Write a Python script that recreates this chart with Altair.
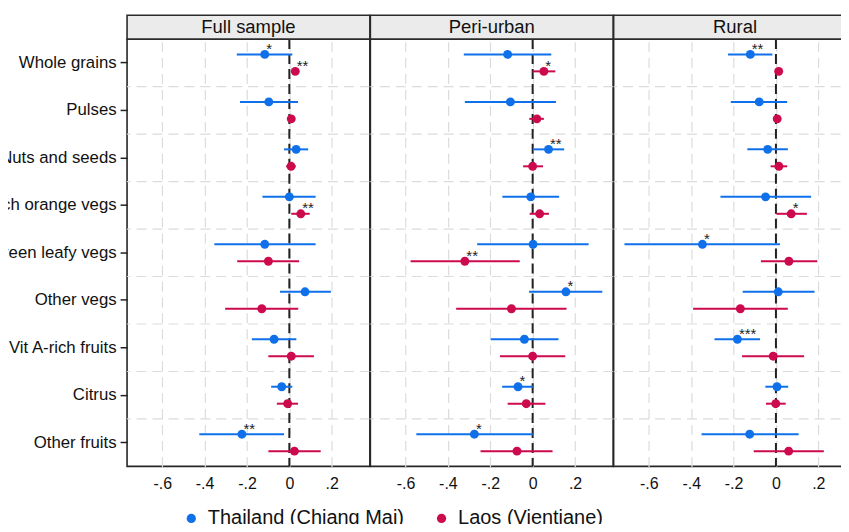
import altair as alt
import pandas as pd

foods = ["Whole grains", "Pulses", "Nuts and seeds", "Vit A-rich orange vegs",
         "Dark green leafy vegs", "Other vegs", "Vit A-rich fruits", "Citrus", "Other fruits"]
panels = ["Full sample", "Peri-urban", "Rural"]
series = ["Thailand (Chiang Mai)", "Laos (Vientiane)"]
x_ticks = [-0.6, -0.4, -0.2, 0.0, 0.2]

# Full sample
full_th_est = [-0.116, -0.097, 0.032, 0.000, -0.116, 0.074, -0.072, -0.036, -0.224]
full_th_lo = [-0.248, -0.233, -0.025, -0.127, -0.354, -0.044, -0.177, -0.086, -0.425]
full_th_hi = [0.014, 0.041, 0.089, 0.124, 0.124, 0.196, 0.033, 0.014, -0.025]
full_th_sig = ["*", "", "", "", "", "", "", "", "**"]
full_la_est = [0.028, 0.009, 0.008, 0.054, -0.099, -0.130, 0.009, -0.008, 0.024]
full_la_lo = [0.012, -0.005, -0.015, 0.009, -0.246, -0.303, -0.099, -0.059, -0.099]
full_la_hi = [0.045, 0.022, 0.030, 0.096, 0.046, 0.042, 0.116, 0.041, 0.148]
full_la_sig = ["**", "", "", "**", "", "", "", "", ""]

# Peri-urban
peri_th_est = [-0.118, -0.105, 0.075, -0.009, 0.002, 0.157, -0.039, -0.069, -0.275]
peri_th_lo = [-0.325, -0.320, 0.003, -0.143, -0.262, -0.017, -0.198, -0.144, -0.549]
peri_th_hi = [0.088, 0.110, 0.149, 0.125, 0.264, 0.329, 0.122, 0.005, 0.002]
peri_th_sig = ["", "", "**", "", "", "*", "", "*", "*"]
peri_la_est = [0.053, 0.020, 0.000, 0.033, -0.320, -0.100, 0.000, -0.030, -0.074]
peri_la_lo = [0.000, -0.016, -0.045, -0.014, -0.576, -0.361, -0.154, -0.118, -0.246]
peri_la_hi = [0.107, 0.053, 0.049, 0.077, -0.061, 0.160, 0.154, 0.060, 0.094]
peri_la_sig = ["*", "", "", "", "**", "", "", "", ""]

# Rural
rur_th_est = [-0.121, -0.079, -0.039, -0.049, -0.347, 0.011, -0.182, 0.005, -0.124]
rur_th_lo = [-0.226, -0.213, -0.135, -0.262, -0.715, -0.157, -0.290, -0.050, -0.351]
rur_th_hi = [-0.017, 0.053, 0.056, 0.166, 0.019, 0.182, -0.075, 0.058, 0.107]
rur_th_sig = ["**", "", "", "", "*", "", "***", "", ""]
rur_la_est = [0.013, 0.006, 0.014, 0.072, 0.061, -0.168, -0.013, -0.001, 0.060]
rur_la_lo = [0.005, 0.000, -0.025, 0.002, -0.071, -0.391, -0.160, -0.047, -0.105]
rur_la_hi = [0.020, 0.012, 0.053, 0.146, 0.195, 0.056, 0.133, 0.046, 0.226]
rur_la_sig = ["", "", "", "*", "", "", "", "", ""]


def make_df(th, la):
    rows = []
    for i, f in enumerate(foods):
        for s, (e, lo, hi, sg) in zip(series, (th, la)):
            rows.append(dict(food=f, series=s, est=e[i], lo=lo[i], hi=hi[i], sig=sg[i]))
    return pd.DataFrame(rows)


dfs = [
    make_df((full_th_est, full_th_lo, full_th_hi, full_th_sig), (full_la_est, full_la_lo, full_la_hi, full_la_sig)),
    make_df((peri_th_est, peri_th_lo, peri_th_hi, peri_th_sig), (peri_la_est, peri_la_lo, peri_la_hi, peri_la_sig)),
    make_df((rur_th_est, rur_th_lo, rur_th_hi, rur_th_sig), (rur_la_est, rur_la_lo, rur_la_hi, rur_la_sig)),
]

W = 243.5
H = 428.5
XDOM = [-0.766, 0.380]
BLUE, RED = "#0f70ea", "#cc0a4d"
FONT = "Liberation Sans"
GRID = "#dcdcdc"

xscale = alt.Scale(domain=XDOM, nice=False, zero=False)
yscale = alt.Scale(domain=foods, paddingInner=0, paddingOuter=0)
yoff = alt.YOffset("series:N", scale=alt.Scale(domain=series, paddingInner=0, paddingOuter=0.4))
xaxis = alt.Axis(
    title=None, values=x_ticks,
    labelExpr="datum.value == 0 ? '0' : (datum.value < 0 ? '-' : '') + replace(format(abs(datum.value), '.1f'), '0.', '.')",
    grid=True, gridDash=[10, 6], gridColor=GRID, gridWidth=1.2,
    ticks=False, tickSize=0, domain=False, labelFontSize=16, labelColor="#111",
    labelPadding=9, labelFlush=False,
)
legend = alt.Legend(
    title=None, orient="none", direction="horizontal", legendX=54.4, legendY=470.7,
    labelFontSize=20, labelColor="#111", symbolType="circle", symbolSize=86,
    symbolStrokeWidth=0, labelOffset=6.6, columnPadding=27, labelLimit=500,
)
color = alt.Color("series:N", scale=alt.Scale(domain=series, range=[BLUE, RED]), legend=legend)


def panel(name, df, first):
    if first:
        yaxis = alt.Axis(title=None, labelFontSize=16.8, labelColor="#111", labelPadding=4,
                         tickSize=7, tickColor="#222", tickWidth=1.5, domain=False,
                         grid=False, labelLimit=400)
    else:
        yaxis = None
    y = alt.Y("food:N", scale=yscale, axis=yaxis, sort=foods)
    base = alt.Chart(df)
    grid = alt.Chart(pd.DataFrame({"food": foods[1:]})).mark_rule(
        color=GRID, strokeDash=[10, 6], strokeWidth=1.2
    ).encode(y=alt.Y("food:N", scale=yscale, axis=yaxis, sort=foods, bandPosition=0))
    zero = alt.Chart(pd.DataFrame({"z": [0.0]})).mark_rule(
        color="#222", strokeDash=[10, 5], strokeWidth=2
    ).encode(x=alt.X("z:Q", scale=xscale, axis=xaxis))
    pts = base.mark_circle(size=80, opacity=1).encode(
        x=alt.X("est:Q", scale=xscale, axis=xaxis), y=y, yOffset=yoff, color=color)
    ci = base.mark_rule(strokeWidth=2).encode(
        x=alt.X("lo:Q", scale=xscale, axis=xaxis), x2="hi:Q", y=y, yOffset=yoff, color=color)
    stars = base.mark_text(align="left", baseline="alphabetic", dx=1.5, dy=-0.5,
                           fontSize=15, color="#222").encode(
        x=alt.X("est:Q", scale=xscale, axis=xaxis), y=y, yOffset=yoff, text="sig:N")
    hdr = alt.Chart(pd.DataFrame({"panel": [name]}))
    hrect = hdr.mark_rect(fill="#ebebeb", stroke="#2b2b2b", strokeWidth=1.6).encode(
        x=alt.value(0), x2=alt.value(W), y=alt.value(-24), y2=alt.value(0))
    htext = hdr.mark_text(fontSize=18.5, color="#111", baseline="middle").encode(
        x=alt.value(W / 2), y=alt.value(-12), text="panel:N")
    return alt.layer(grid, zero, pts, ci, stars, hrect, htext).properties(width=W, height=H)


chart = alt.hconcat(
    *[panel(n, d, i == 0) for i, (n, d) in enumerate(zip(panels, dfs))], spacing=0, bounds="flush"
).resolve_scale(color="shared").properties(
    padding={"left": -57.6, "top": 4.5, "right": -18, "bottom": -6}
).configure(font=FONT).configure_view(stroke="#262626", strokeWidth=1.6)

chart.save("out.html", embed_options={"renderer": "svg", "actions": False})
